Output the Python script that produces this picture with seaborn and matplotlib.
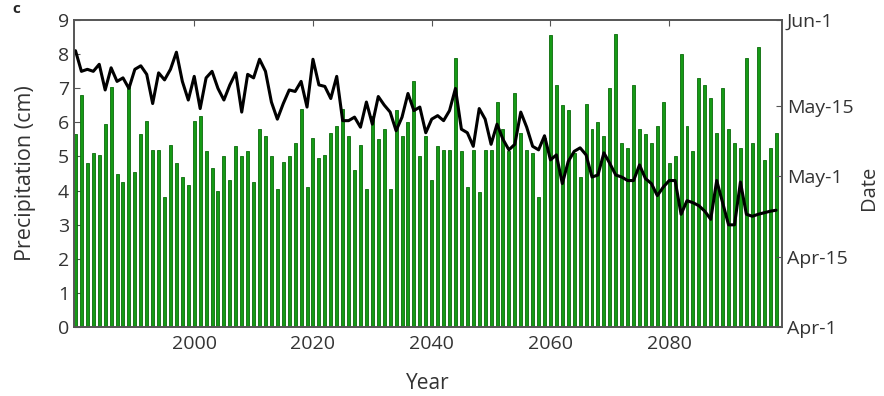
import numpy as np
import pandas as pd
import seaborn as sns
import matplotlib
matplotlib.use("Agg")
import matplotlib.pyplot as plt

# yearly precipitation (cm), 1980-2098
years = list(range(1980, 2099))
precip = [
    5.65, 6.8, 4.8, 5.1, 5.05, 5.95, 7.05, 4.5, 4.25, 7.1,
    4.55, 5.65, 6.05, 5.2, 5.2, 3.8, 5.35, 4.8, 4.4, 4.15,
    6.05, 6.2, 5.15, 4.65, 4.0, 5.0, 4.3, 5.3, 5.0, 5.15,
    4.25, 5.8, 5.6, 5.0, 4.05, 4.85, 5.0, 5.4, 6.4, 4.1,
    5.55, 4.95, 5.05, 5.7, 5.9, 6.4, 5.6, 4.6, 5.35, 4.05,
    6.2, 5.5, 5.8, 4.05, 6.35, 5.6, 6.0, 7.2, 5.0, 5.6,
    4.3, 5.3, 5.2, 5.2, 7.9, 5.15, 4.1, 5.2, 3.95, 5.2,
    5.2, 6.6, 5.8, 5.15, 6.85, 5.7, 5.2, 5.1, 3.8, 5.55,
    8.55, 7.1, 6.5, 6.35, 5.1, 4.4, 6.55, 5.8, 6.0, 5.6,
    7.0, 8.6, 5.4, 5.25, 7.1, 5.8, 5.65, 5.4, 5.9, 6.6,
    4.8, 5.0, 8.0, 5.9, 5.15, 7.3, 7.1, 6.7, 5.7, 7.0,
    5.8, 5.4, 5.25, 7.9, 5.4, 8.2, 4.9, 5.25, 5.7,
]

# date of the event, days after Apr-1
onset = [
    54.9, 50.8, 51.2, 50.8, 52.2, 47.1, 51.5, 48.8, 49.5, 47.4,
    51.2, 51.9, 50.2, 44.4, 50.5, 49.1, 51.2, 54.6, 48.8, 45.1,
    49.8, 43.4, 49.5, 50.8, 47.4, 45.1, 48.1, 50.5, 42.7, 50.2,
    49.5, 53.2, 50.8, 44.7, 41.3, 44.4, 47.1, 46.8, 48.8, 43.7,
    53.2, 48.1, 47.8, 45.4, 49.8, 41.0, 41.0, 41.7, 39.7, 44.7,
    40.3, 45.8, 44.1, 42.7, 39.0, 41.7, 46.4, 43.0, 43.7, 38.6,
    41.3, 42.0, 41.0, 43.0, 47.4, 39.3, 38.6, 35.9, 43.4, 41.3,
    36.3, 40.3, 37.3, 35.2, 36.3, 42.7, 39.7, 35.9, 35.2, 38.0,
    33.2, 34.2, 28.5, 32.9, 34.9, 35.6, 34.2, 29.8, 30.2, 34.6,
    32.5, 30.2, 29.8, 29.1, 29.1, 32.2, 29.5, 28.5, 26.1, 27.8,
    29.1, 29.1, 22.4, 25.1, 24.7, 24.1, 23.0, 21.4, 29.1, 24.7,
    20.3, 20.3, 28.8, 22.4, 22.0, 22.4, 22.7, 23.0, 23.2,
]

date_ticks = [0, 14, 30, 44, 61]
date_labels = ["Apr-1", "Apr-15", "May-1", "May-15", "Jun-1"]

df = pd.DataFrame({"year": years, "precip": precip, "onset": onset})

sns.set_style("ticks")
plt.rcParams["font.family"] = ["Open Sans", "DejaVu Sans"]
txt = "#333333"

fig = plt.figure(figsize=(8.84, 3.96), dpi=100)
ax = fig.add_axes([74 / 884, 1 - 327 / 396, 708 / 884, 307 / 396])

sns.barplot(data=df, x="year", y="precip", native_scale=True, width=0.5,
            color="#159a15", edgecolor="#0a6a0a", linewidth=0.6,
            saturation=1, errorbar=None, ax=ax)
ax.set_xlim(1979.75, 2099)
ax.set_ylim(0, 9)
ax.set_yticks(range(0, 10))
ax.set_xticks([2000, 2020, 2040, 2060, 2080])
ax.set_xlabel("Year", fontsize=15, color=txt, labelpad=14)
ax.set_ylabel("Precipitation (cm)", fontsize=15.5, color=txt, labelpad=16)
ax.tick_params(direction="in", top=True, length=4, labelsize=14,
               colors="#555555", labelcolor=txt)
ax.tick_params(axis="x", pad=6)

ax2 = ax.twinx()
sns.lineplot(data=df, x="year", y="onset", color="black", linewidth=2.2, ax=ax2)
ax2.set_ylim(0, 61)
ax2.set_yticks(date_ticks)
ax2.set_yticklabels(date_labels)
ax2.set_ylabel("")
ax2.tick_params(direction="in", length=4, labelsize=14,
                colors="#555555", labelcolor=txt)

for a in (ax, ax2):
    for s in a.spines.values():
        s.set_color("#555555")
        s.set_linewidth(1.2)

fig.text(859 / 884, 0.525, "Date", rotation=90, ha="left", va="center",
         fontsize=14.5, color=txt)
fig.text(12 / 884, 1 - 2 / 396, "c", fontsize=11, fontweight="bold",
         va="top")

fig.savefig("out.png", dpi=100, facecolor="white")
